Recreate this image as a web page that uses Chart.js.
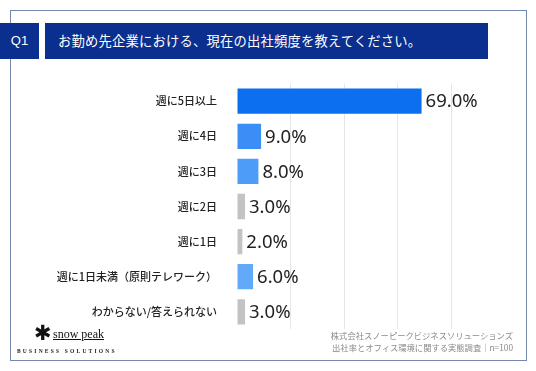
<!DOCTYPE html>
<html lang="ja">
<head>
<meta charset="utf-8">
<script src="https://cdn.jsdelivr.net/npm/chart.js@4/dist/chart.umd.min.js"></script>
<style>
  html, body { margin: 0; padding: 0; background: #fff; }
  #wrap { position: relative; width: 536px; height: 371px; overflow: hidden; font-family: "Noto Sans CJK JP", "Noto Sans", sans-serif; }
  #frame { position: absolute; left: 10px; top: 10px; width: 517px; height: 351px; border: 1.5px solid #7488ad; box-sizing: border-box; }
  .navy { position: absolute; background: #0a2f8e; color: #fff; top: 23px; height: 36px; line-height: 36px; font-size: 13.3px; }
  #q { left: 0; width: 39px; text-align: center; font-family: "Liberation Sans", sans-serif; font-size: 13px; }
  #title { left: 45px; width: 443px; padding-left: 13px; box-sizing: border-box; letter-spacing: 0.2px; }
  #chart { position: absolute; left: 0; top: 65px; }
  #src { position: absolute; right: 23px; top: 329px; text-align: right; color: #8a8a8a; font-size: 8.3px; line-height: 12px; }
  #logo { position: absolute; left: 16px; top: 322px; width: 100px; }
  #logo .mark { position: absolute; left: 18px; top: -1px; font-size: 21px; font-weight: bold; color: #111; font-family: "DejaVu Sans", sans-serif; }
  #logo .name { position: absolute; left: 37px; top: 5px; font-family: "Liberation Serif", serif; font-size: 12px; color: #111; text-decoration: underline; text-decoration-thickness: 1px; }
  #logo .sub { position: absolute; left: 1px; top: 26px; font-family: "Liberation Serif", serif; font-size: 5.5px; font-weight: bold; letter-spacing: 2.2px; color: #222; white-space: nowrap; }
</style>
</head>
<body>
<div id="wrap">
  <div id="frame"></div>
  <div class="navy" id="q">Q1</div>
  <div class="navy" id="title">お勤め先企業における、現在の出社頻度を教えてください。</div>
  <canvas id="chart" width="536" height="283"></canvas>
  <div id="logo">
    <span class="mark">✱</span>
    <span class="name">snow peak</span>
    <span class="sub">BUSINESS SOLUTIONS</span>
  </div>
  <div id="src">株式会社スノーピークビジネスソリューションズ<br>出社率とオフィス環境に関する実態調査｜n=100</div>
</div>
<script>
  // データ
  const categories = [
    "週に5日以上",
    "週に4日",
    "週に3日",
    "週に2日",
    "週に1日",
    "週に1日未満（原則テレワーク）",
    "わからない/答えられない",
  ];
  const percents = [69.0, 9.0, 8.0, 3.0, 2.0, 6.0, 3.0];
  const axisTicks = [0, 20, 40, 60, 80];

  // バーの色
  const barColors = ["#0b6ff0", "#3a8ef6", "#4d9cf7", "#c3c3c3", "#c3c3c3", "#62aaf8", "#c3c3c3"];

  // 数値ラベル
  const valueLabels = {
    id: "valueLabels",
    afterDatasetsDraw(chart) {
      const ctx = chart.ctx;
      const meta = chart.getDatasetMeta(0);
      ctx.save();
      ctx.font = '18.5px "Noto Sans", sans-serif';
      ctx.fillStyle = "#222";
      ctx.textAlign = "left";
      ctx.textBaseline = "middle";
      meta.data.forEach((bar, i) => {
        ctx.fillText(percents[i].toFixed(1) + "%", bar.x + 4, bar.y + 1);
      });
      ctx.restore();
    },
  };

  new Chart(document.getElementById("chart").getContext("2d"), {
    type: "bar",
    data: {
      labels: categories,
      datasets: [
        {
          data: percents,
          backgroundColor: barColors,
          borderWidth: 0,
          categoryPercentage: 1,
          barPercentage: 0.72,
        },
      ],
    },
    options: {
      indexAxis: "y",
      responsive: false,
      animation: false,
      layout: { padding: { top: 0, bottom: 0, left: 0, right: 85 } },
      plugins: {
        legend: { display: false },
        tooltip: { enabled: false },
      },
      scales: {
        x: {
          min: axisTicks[0],
          max: axisTicks[axisTicks.length - 1],
          afterBuildTicks: (scale) => {
            scale.ticks = axisTicks.map((v) => ({ value: v }));
          },
          ticks: { display: false },
          border: { display: false },
          grid: {
            drawTicks: false,
            color: (c) => (c.tick && c.tick.value === 0 ? "rgba(0,0,0,0)" : "#e6e6e6"),
          },
        },
        y: {
          afterFit: (scale) => {
            scale.width = 237;
          },
          ticks: {
            color: "#222",
            padding: 12,
            font: { family: '"Noto Sans CJK JP"', size: 11, weight: "500" },
          },
          border: { display: false },
          grid: { display: false },
        },
      },
    },
    plugins: [valueLabels],
  });
</script>
</body>
</html>
